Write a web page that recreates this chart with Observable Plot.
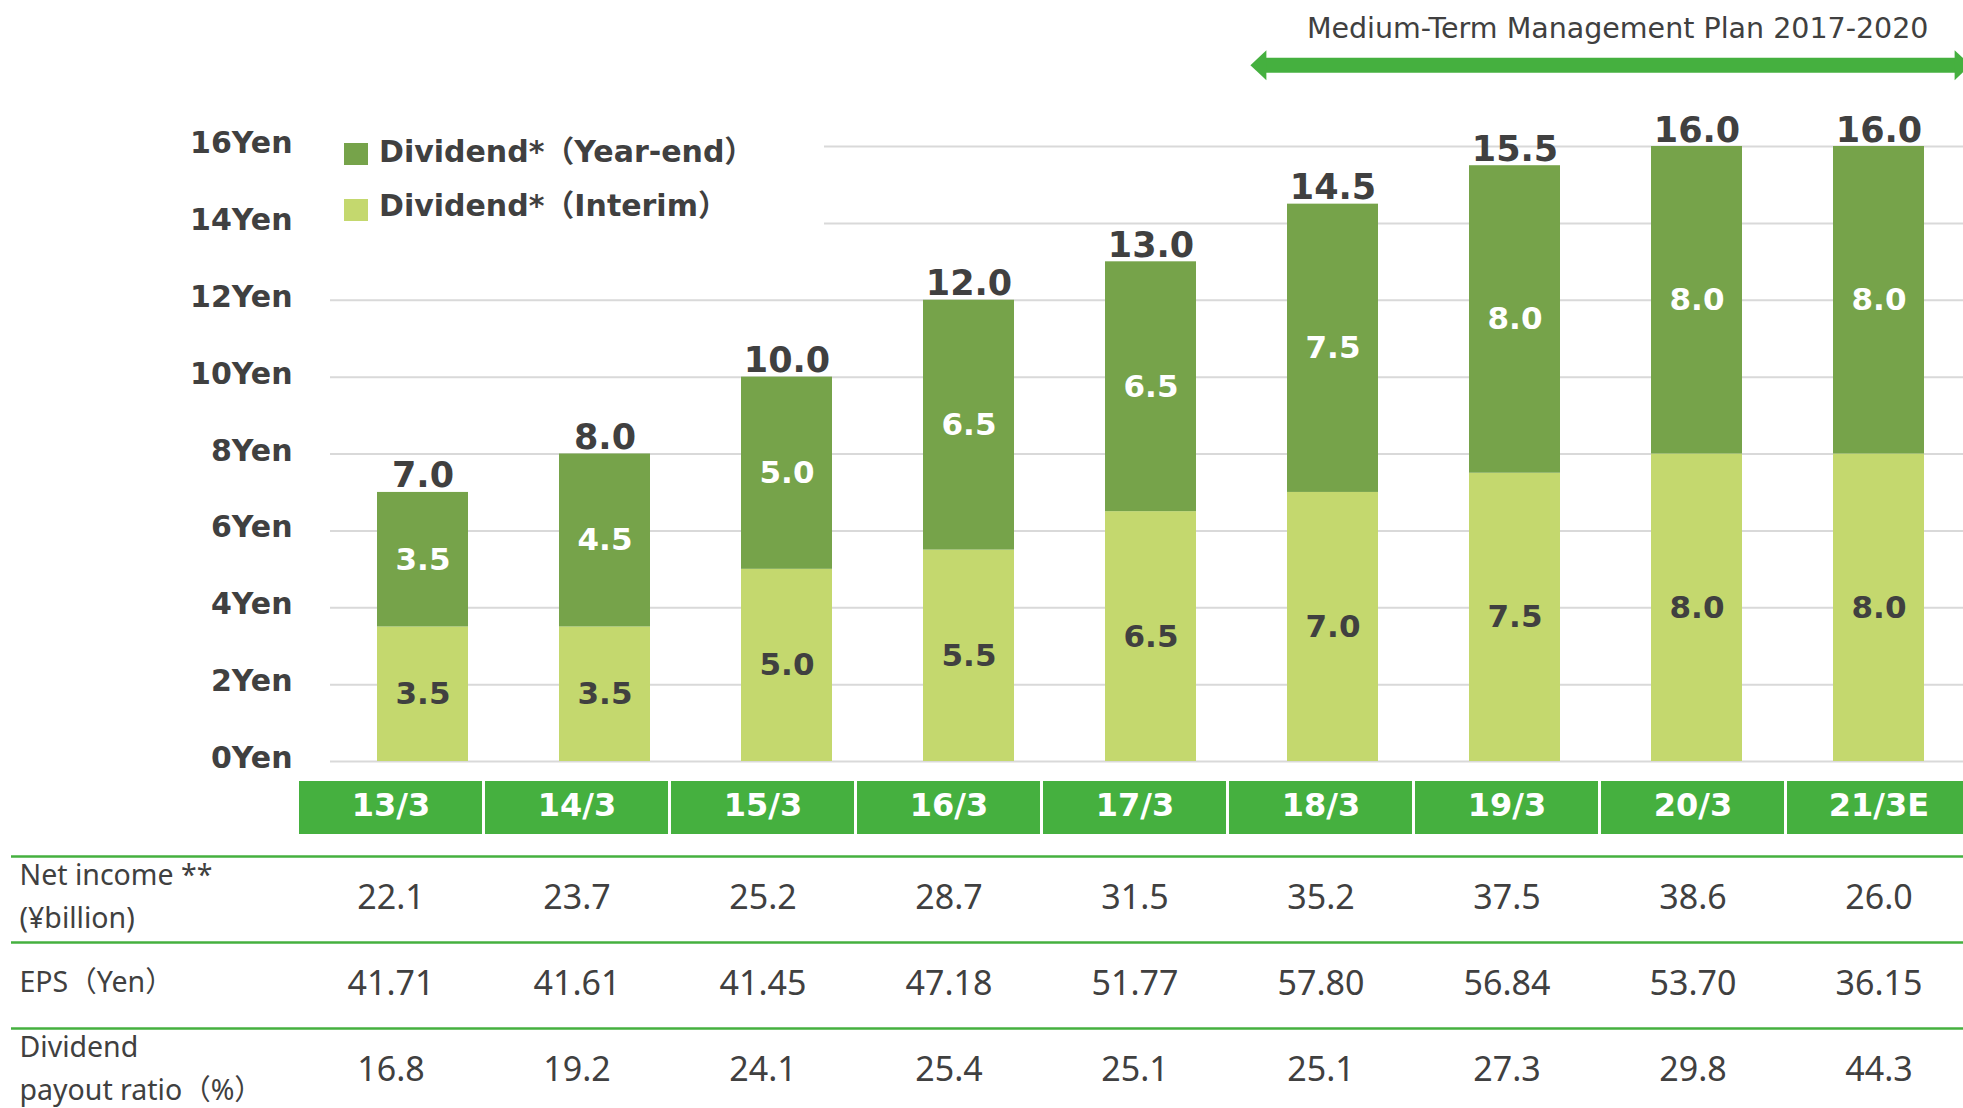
<!DOCTYPE html>
<html>
<head>
<meta charset="utf-8">
<script src="https://cdn.jsdelivr.net/npm/d3@7"></script>
<script src="https://cdn.jsdelivr.net/npm/@observablehq/plot@0.6"></script>
<style>
  body { margin: 0; background: #fff; }
  #wrap { position: relative; width: 1963px; height: 1108px; overflow: hidden; background: #fff; }
  #wrap svg { display: block; }
  .legend { position: absolute; left: 330px; top: 125px; width: 494px; height: 112px; background: #fff;
            font: bold 30px "DejaVu Sans", "Noto Sans CJK JP", sans-serif; color: #404040; }
  .sw { position: absolute; left: 14px; width: 24px; height: 22px; }
  .lt { position: absolute; left: 49px; line-height: 30px; white-space: nowrap; }
</style>
</head>
<body>
<div id="wrap">
  <div id="bars"></div>
  <div id="table"></div>
  <div class="legend" id="legend"></div>
</div>
<script>
// ---------- data ----------
const fiscalYears = ["13/3", "14/3", "15/3", "16/3", "17/3", "18/3", "19/3", "20/3", "21/3E"];
const interimDividend = [3.5, 3.5, 5.0, 5.5, 6.5, 7.0, 7.5, 8.0, 8.0];
const yearEndDividend = [3.5, 4.5, 5.0, 6.5, 6.5, 7.5, 8.0, 8.0, 8.0];
const netIncome = [22.1, 23.7, 25.2, 28.7, 31.5, 35.2, 37.5, 38.6, 26.0];
const epsYen = [41.71, 41.61, 41.45, 47.18, 51.77, 57.80, 56.84, 53.70, 36.15];
const payoutRatio = [16.8, 19.2, 24.1, 25.4, 25.1, 25.1, 27.3, 29.8, 44.3];
const yTicks = [0, 2, 4, 6, 8, 10, 12, 14, 16];
const seriesNames = ["Dividend*（Interim）", "Dividend*（Year-end）"];
const seriesColors = ["#c4d86e", "#76a34a"];
const planSpan = [{label: "Medium-Term Management Plan 2017-2020", from: "18/3", to: "21/3E"}];
const rowKeys = ["net", "eps", "payout"];
const rowLabelTexts = ["Net income **\n(¥billion)", "EPS（Yen）", "Dividend\npayout ratio（%）"];

// ---------- derived tables ----------
const stacked = fiscalYears.flatMap((year, i) => [
  {year, series: seriesNames[0], value: interimDividend[i]},
  {year, series: seriesNames[1], value: yearEndDividend[i]}
]);
const totals = fiscalYears.map((year, i) => ({year, total: interimDividend[i] + yearEndDividend[i]}));
const tableCells = fiscalYears.flatMap((year, i) => [
  {year, row: "net", text: netIncome[i].toFixed(1)},
  {year, row: "eps", text: epsYen[i].toFixed(2)},
  {year, row: "payout", text: payoutRatio[i].toFixed(1)}
]);
const rowLabels = rowKeys.map((row, i) => ({row, label: rowLabelTexts[i]}));

const GREEN = "#45b03f";
const TEXT = "#404040";
const arrowLeft = {draw(ctx) { ctx.moveTo(-8, 0); ctx.lineTo(8, -15); ctx.lineTo(8, 15); ctx.closePath(); }};
const arrowRight = {draw(ctx) { ctx.moveTo(8, 0); ctx.lineTo(-8, -15); ctx.lineTo(-8, 15); ctx.closePath(); }};
const ARROW_DY = -388.8;

// ---------- bar chart ----------
const bars = Plot.plot({
  width: 1963,
  height: 770,
  marginTop: 146,
  marginBottom: 9,
  marginLeft: 330,
  marginRight: 0,
  style: {fontFamily: "'DejaVu Sans', 'Noto Sans CJK JP', sans-serif", background: "#fff", overflow: "visible"},
  x: {domain: fiscalYears, range: [329, 1971], paddingInner: 0.5, paddingOuter: 0.25, axis: null},
  y: {domain: [0, 16]},
  color: {domain: seriesNames, range: seriesColors},
  marks: [
    Plot.ruleY(yTicks, {stroke: "#d9d9d9", strokeWidth: 2}),
    Plot.axisY(yTicks, {tickSize: 0, tickPadding: 38, tickFormat: d => `${d}Yen`, fontSize: 30,
                        fontWeight: "bold", color: TEXT, label: null, dy: -3}),
    Plot.barY(stacked, {x: "year", y: "value", fill: "series"}),
    Plot.text(stacked, Plot.stackY({x: "year", y: "value", z: "series",
      text: d => d.series === seriesNames[0] ? d.value.toFixed(1) : null,
      fill: TEXT, fontSize: 31, fontWeight: "bold"})),
    Plot.text(stacked, Plot.stackY({x: "year", y: "value", z: "series",
      text: d => d.series === seriesNames[1] ? d.value.toFixed(1) : null,
      fill: "#ffffff", fontSize: 31, fontWeight: "bold"})),
    Plot.text(totals, {x: "year", y: "total", text: d => d.total.toFixed(1), lineAnchor: "bottom",
      dy: -5, fontSize: 35, fontWeight: "bold", fill: TEXT}),
    // medium-term plan annotation
    Plot.text(planSpan, {text: "label", frameAnchor: "top-right", textAnchor: "end", lineAnchor: "middle",
      dx: -35, dy: -118, fontSize: 28.5, fill: TEXT}),
    Plot.ruleY(planSpan, {x1: "from", x2: "to", y: null, stroke: GREEN, strokeWidth: 15,
      insetLeft: -24.6, insetRight: -35, dy: ARROW_DY}),
    Plot.dot(planSpan, {x: "from", symbol: arrowLeft, r: 10, fill: GREEN, stroke: "none", dx: -74.6, dy: ARROW_DY}),
    Plot.dot(planSpan, {x: "to", symbol: arrowRight, r: 10, fill: GREEN, stroke: "none", dx: 83.6, dy: ARROW_DY})
  ]
});
document.getElementById("bars").appendChild(bars);

// ---------- legend ----------
const legend = document.getElementById("legend");
[[1, 18, 11.5], [0, 74, 65.8]].forEach(([k, swTop, txtTop]) => {
  const sw = document.createElement("div");
  sw.className = "sw";
  sw.style.top = swTop + "px";
  sw.style.background = seriesColors[k];
  const t = document.createElement("div");
  t.className = "lt";
  t.style.top = txtTop + "px";
  t.textContent = seriesNames[k];
  legend.appendChild(sw);
  legend.appendChild(t);
});

// ---------- table ----------
const table = Plot.plot({
  width: 1963,
  height: 338,
  marginTop: 0,
  marginBottom: 0,
  marginLeft: 11,
  marginRight: 0,
  style: {fontFamily: "'DejaVu Sans', 'Noto Sans CJK JP', sans-serif", background: "#fff", overflow: "visible"},
  x: {domain: fiscalYears, range: [298, 1972], paddingInner: 0.016, paddingOuter: 0, axis: null},
  y: {domain: ["header", ...rowKeys], range: [0, 344], paddingInner: 0, paddingOuter: 0, axis: null},
  marks: [
    Plot.cell(fiscalYears, {x: d => d, y: () => "header", fill: GREEN, insetTop: 11, insetBottom: 22,
      insetLeft: 0, insetRight: 0}),
    Plot.text(fiscalYears, {x: d => d, y: () => "header", text: d => d, fill: "#ffffff",
      fontSize: 32, fontWeight: "bold", dy: -8}),
    Plot.ruleY(rowKeys, {y: d => d, stroke: GREEN, strokeWidth: 2.5, dy: -43}),
    Plot.text(tableCells, {x: "year", y: "row", text: "text", fontFamily: "'Noto Sans', sans-serif",
      fontSize: 34, fill: TEXT, dy: -1}),
    Plot.text(rowLabels, {y: "row", text: "label", frameAnchor: "left", textAnchor: "start", dx: 8, dy: -7,
      fontFamily: "'Noto Sans', 'Noto Sans CJK JP', sans-serif", fontSize: 28.5, lineHeight: 1.5, fill: TEXT})
  ]
});
document.getElementById("table").appendChild(table);
</script>
</body>
</html>
